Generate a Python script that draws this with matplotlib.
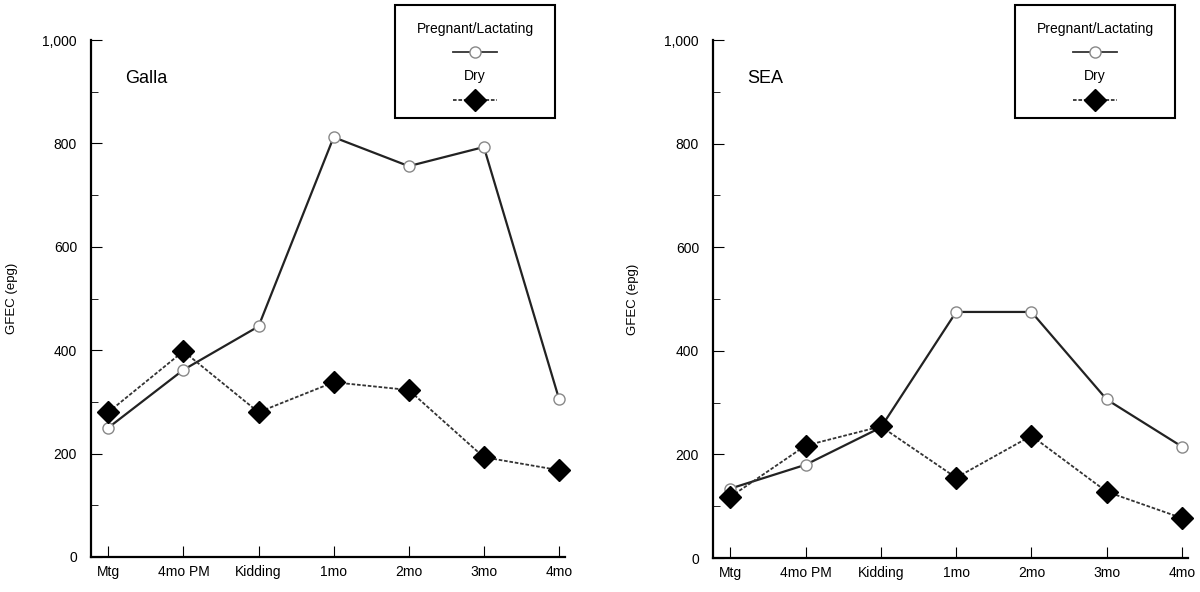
import matplotlib.pyplot as plt
from matplotlib.lines import Line2D
from matplotlib.patches import Rectangle
from matplotlib.ticker import FuncFormatter, MultipleLocator

plt.rcParams['font.family'] = ['Liberation Sans', 'DejaVu Sans']

periods = ['Mtg', '4mo PM', 'Kidding', '1mo', '2mo', '3mo', '4mo']

# GFEC (epg)
galla_preg = [250, 362, 446, 812, 756, 793, 306]
galla_dry = [280, 398, 280, 338, 323, 193, 168]
sea_preg = [134, 180, 252, 475, 475, 306, 215]
sea_dry = [118, 217, 254, 155, 236, 128, 77]

W, H = 1200, 592


def draw_key(fig, left_px):
  # hand-built legend box: label above each marker sample
  x0, x1 = left_px / W, (left_px + 160) / W
  y0, y1 = 1 - 118 / H, 1 - 5 / H
  fig.add_artist(Rectangle((x0, y0), x1 - x0, y1 - y0, transform=fig.transFigure,
                           fill=False, edgecolor='black', linewidth=1.5))
  cx = (x0 + x1) / 2
  fig.text(cx, 1 - 29 / H, 'Pregnant/Lactating', ha='center', va='center', fontsize=10)
  fig.text(cx, 1 - 76 / H, 'Dry', ha='center', va='center', fontsize=10)
  dx = 22 / W
  fig.add_artist(Line2D([cx - dx, cx, cx + dx], [1 - 52 / H] * 3, transform=fig.transFigure,
                        color='#333333', linewidth=1.3, marker='o', markevery=[1],
                        markersize=8, markerfacecolor='white', markeredgecolor='#888888'))
  fig.add_artist(Line2D([cx - dx, cx, cx + dx], [1 - 100 / H] * 3, transform=fig.transFigure,
                        color='#333333', linewidth=1.3, linestyle=(0, (2, 1)), marker='D',
                        markevery=[1], markersize=11, markerfacecolor='black',
                        markeredgecolor='black'))


def panel(ax, name, preg, dry):
  x = range(len(periods))
  ax.plot(x, preg, color='#222222', linewidth=1.6, marker='o', markersize=8,
          markerfacecolor='white', markeredgecolor='#888888', markeredgewidth=1.0,
          zorder=3, clip_on=False)
  ax.plot(x, dry, color='#333333', linewidth=1.3, linestyle=(0, (2, 1)), marker='D',
          markersize=11, markerfacecolor='black', markeredgecolor='black',
          zorder=4, clip_on=False)

  ax.set_xlim(-0.23, 6.08)
  ax.set_ylim(0, 1000)
  ax.set_xticks(list(x))
  ax.set_xticklabels(periods, fontsize=10)
  ax.yaxis.set_major_locator(MultipleLocator(200))
  ax.yaxis.set_minor_locator(MultipleLocator(100))
  ax.yaxis.set_major_formatter(FuncFormatter(lambda v, p: f'{int(v):,}'))
  ax.tick_params(axis='y', which='major', direction='in', length=8, labelsize=10, pad=10)
  ax.tick_params(axis='y', which='minor', direction='in', length=5)
  ax.tick_params(axis='x', direction='in', length=8, labelsize=10, pad=6)
  for s in ['top', 'right']:
    ax.spines[s].set_visible(False)
  for s in ['left', 'bottom']:
    ax.spines[s].set_linewidth(1.6)
  ax.set_ylabel('GFEC (epg)', fontsize=9.5)
  ax.yaxis.set_label_coords(-0.155, 0.5)
  ax.text(0.072, 0.926, name, transform=ax.transAxes, fontsize=13, va='center')


def main():
  fig = plt.figure(figsize=(W / 100, H / 100), dpi=100)
  ax1 = fig.add_axes([91 / W, 35 / H, 474 / W, 517 / H])
  ax2 = fig.add_axes([713 / W, 34 / H, 475 / W, 518 / H])
  panel(ax1, 'Galla', galla_preg, galla_dry)
  panel(ax2, 'SEA', sea_preg, sea_dry)
  draw_key(fig, 395)
  draw_key(fig, 1015)
  fig.savefig('out.png', dpi=100)


if __name__ == '__main__':
  main()
